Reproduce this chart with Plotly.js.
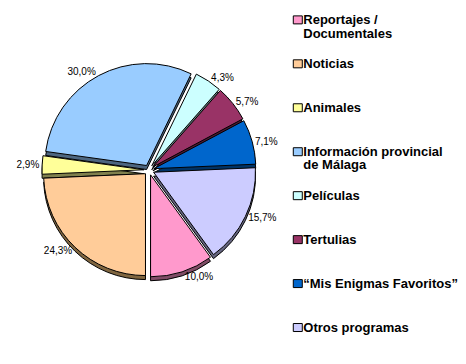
<!DOCTYPE html>
<html>
<head>
<meta charset="utf-8">
<script src="https://cdn.plot.ly/plotly-3.0.1.min.js"></script>
<style>html,body{margin:0;padding:0;background:#fff;}#chart{width:466px;height:364px;}</style>
</head>
<body>
<div id="chart"></div>
<script>
// Categories (legend order)
var categories = [
  "Reportajes /<br>Documentales",
  "Noticias",
  "Animales",
  "Información provincial<br>de Málaga",
  "Películas",
  "Tertulias",
  "“Mis Enigmas Favoritos”",
  "Otros programas"
];
// Percent values
var values = [10.0, 24.3, 2.9, 30.0, 4.3, 5.7, 7.1, 15.7];
var colors = ["#FF99CC", "#FFCC99", "#FFFF99", "#99CCFF", "#CCFFFF", "#993366", "#0066CC", "#CCCCFF"];
var sideColors = ["#804D66", "#806640", "#80804D", "#4D6680", "#668080", "#4D1A33", "#003366", "#666680"];

// legend labels: pad entries so they are evenly spaced (last one only needs 2 lines)
var legendLabels = categories.map(function (c, i) {
  var lines = c.split("<br>");
  var out = lines.map(function (l) { return '<span style="font-size:13px">' + l + '</span>'; });
  var need = (i === categories.length - 1) ? 2 : 3;
  while (out.length < need) out.push("&nbsp;");
  return out.join("<br>");
});

var W = 466, H = 364;
var cx = 149, cy = 170, half = 107, depth = 4;
function dom(yc) {
  return {
    x: [(cx - half) / W, (cx + half) / W],
    y: [1 - (yc + half) / H, 1 - (yc - half) / H]
  };
}
var common = {
  type: "pie",
  labels: legendLabels,
  values: values,
  sort: false,
  direction: "clockwise",
  rotation: 144,
  pull: 0.05
};
var shadow = Object.assign({}, common, {
  domain: dom(cy + depth),
  marker: { colors: sideColors, line: { color: "#000", width: 1 } },
  textinfo: "none",
  hoverinfo: "skip",
  showlegend: false
});
var main = Object.assign({}, common, {
  domain: dom(cy),
  marker: { colors: colors, line: { color: "#000", width: 1 } },
  texttemplate: "%{percent:.1%}",
  textposition: "outside",
  outsidetextfont: { family: "Liberation Sans, Arial, sans-serif", size: 10, color: "#000" },
  showlegend: true
});

var layout = {
  width: W, height: H,
  margin: { l: 0, r: 0, t: 0, b: 0 },
  paper_bgcolor: "#fff",
  separators: ",.",
  showlegend: true,
  legend: {
    x: 0.565, xanchor: "left",
    y: 0.982, yanchor: "top",
    valign: "top",
    font: { family: "Liberation Sans, Arial, sans-serif", size: 10.5, color: "#000", weight: "bold" },
    bgcolor: "rgba(0,0,0,0)",
    traceorder: "normal"
  }
};
Plotly.newPlot("chart", [shadow, main], layout, { displayModeBar: false, staticPlot: true }).then(function (gd) {
  // smaller legend swatches placed close to the text, as in the original
  gd.querySelectorAll("path.legendpie").forEach(function (p) {
    p.setAttribute("d", "M19,4H10V-4H19Z");
  });
});
</script>
</body>
</html>
